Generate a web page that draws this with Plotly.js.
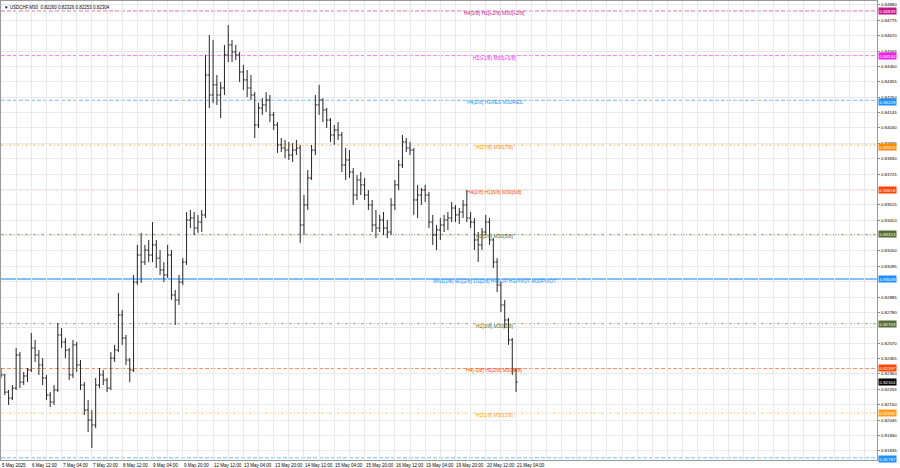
<!DOCTYPE html>
<html>
<head>
<meta charset="utf-8">
<script src="https://cdn.plot.ly/plotly-3.0.1.min.js"></script>
<style>html,body{margin:0;padding:0;background:#fff;}#chart{width:900px;height:468px;}</style>
</head>
<body>
<div id="chart"></div>
<script>
// 2-hour bars, starting 5 May 20:00
const bar_open = [0.82373,0.82353,0.82236,0.82195,0.82263,0.82489,0.82304,0.82346,0.82387,0.82537,0.82489,0.82421,0.82332,0.82216,0.82168,0.82250,0.82626,0.82578,0.82523,0.82353,0.82558,0.82421,0.82284,0.82113,0.82045,0.82011,0.82284,0.82353,0.82318,0.82263,0.82468,0.82523,0.82763,0.82605,0.82455,0.82387,0.82987,0.83172,0.83124,0.83206,0.83172,0.83241,0.83151,0.83070,0.83036,0.83172,0.82899,0.82865,0.82987,0.83124,0.83411,0.83425,0.83356,0.83397,0.83446,0.84402,0.84265,0.84334,0.84265,0.84313,0.84539,0.84607,0.84559,0.84539,0.84422,0.84368,0.84313,0.84265,0.84060,0.84176,0.84197,0.84231,0.84129,0.84060,0.83924,0.83903,0.83889,0.83855,0.83889,0.83903,0.83377,0.83514,0.83698,0.83889,0.84197,0.84231,0.84163,0.84094,0.83992,0.84026,0.83992,0.83787,0.83821,0.83739,0.83582,0.83685,0.83651,0.83582,0.83514,0.83377,0.83356,0.83411,0.83356,0.83329,0.83514,0.83651,0.83787,0.83944,0.83903,0.83889,0.83548,0.83582,0.83616,0.83582,0.83397,0.83309,0.83343,0.83377,0.83411,0.83425,0.83493,0.83446,0.83466,0.83514,0.83425,0.83397,0.83275,0.83241,0.83329,0.83397,0.83275,0.83124,0.82967,0.82831,0.82728,0.82592,0.82387];
const bar_high = [0.82400,0.82360,0.82250,0.82284,0.82537,0.82509,0.82373,0.82400,0.82640,0.82592,0.82523,0.82468,0.82353,0.82236,0.82284,0.82708,0.82673,0.82605,0.82537,0.82592,0.82578,0.82455,0.82304,0.82182,0.82113,0.82332,0.82400,0.82387,0.82332,0.82509,0.82558,0.82913,0.82797,0.82626,0.82468,0.83036,0.83241,0.83323,0.83241,0.83275,0.83397,0.83275,0.83206,0.83124,0.83241,0.83206,0.82933,0.83036,0.83151,0.83466,0.83480,0.83466,0.83446,0.83480,0.84539,0.84675,0.84641,0.84402,0.84354,0.84607,0.84743,0.84641,0.84607,0.84559,0.84470,0.84436,0.84402,0.84285,0.84211,0.84244,0.84285,0.84265,0.84149,0.84080,0.83971,0.83958,0.83944,0.83937,0.83958,0.83924,0.83582,0.83753,0.83924,0.84265,0.84334,0.84244,0.84176,0.84108,0.84060,0.84080,0.84012,0.83903,0.83889,0.83766,0.83719,0.83739,0.83698,0.83616,0.83548,0.83480,0.83446,0.83466,0.83411,0.83561,0.83685,0.83821,0.83992,0.83971,0.83944,0.83903,0.83651,0.83630,0.83651,0.83602,0.83446,0.83377,0.83425,0.83446,0.83466,0.83534,0.83514,0.83493,0.83548,0.83616,0.83466,0.83425,0.83329,0.83356,0.83446,0.83425,0.83288,0.83151,0.82987,0.82865,0.82742,0.82605,0.82400];
const bar_low = [0.82332,0.82216,0.82148,0.82182,0.82250,0.82263,0.82284,0.82304,0.82373,0.82441,0.82353,0.82284,0.82182,0.82134,0.82148,0.82236,0.82537,0.82468,0.82318,0.82332,0.82373,0.82250,0.82079,0.81963,0.81854,0.81990,0.82263,0.82284,0.82236,0.82250,0.82441,0.82509,0.82558,0.82421,0.82304,0.82373,0.82967,0.82981,0.83104,0.83124,0.83124,0.83083,0.83036,0.82987,0.83015,0.82865,0.82694,0.82831,0.82967,0.83104,0.83356,0.83309,0.83323,0.83329,0.83425,0.84176,0.84211,0.84197,0.84108,0.84265,0.84490,0.84490,0.84504,0.84354,0.84299,0.84251,0.84231,0.83971,0.84039,0.84129,0.84149,0.84080,0.84026,0.83869,0.83875,0.83834,0.83821,0.83807,0.83855,0.83255,0.83309,0.83480,0.83685,0.83855,0.84129,0.84080,0.84039,0.83944,0.83924,0.83958,0.83739,0.83685,0.83698,0.83514,0.83548,0.83582,0.83548,0.83480,0.83329,0.83288,0.83329,0.83309,0.83288,0.83309,0.83480,0.83616,0.83766,0.83875,0.83855,0.83446,0.83425,0.83514,0.83534,0.83356,0.83241,0.83206,0.83275,0.83329,0.83343,0.83397,0.83397,0.83384,0.83425,0.83397,0.83356,0.83206,0.83124,0.83206,0.83309,0.83241,0.83083,0.82919,0.82783,0.82673,0.82558,0.82353,0.82236];
const bar_close = [0.82353,0.82236,0.82195,0.82263,0.82489,0.82304,0.82346,0.82387,0.82537,0.82489,0.82421,0.82332,0.82216,0.82168,0.82250,0.82626,0.82578,0.82523,0.82353,0.82558,0.82421,0.82284,0.82113,0.82045,0.82011,0.82284,0.82353,0.82318,0.82263,0.82468,0.82523,0.82763,0.82605,0.82455,0.82387,0.82987,0.83172,0.83124,0.83206,0.83172,0.83241,0.83151,0.83070,0.83036,0.83172,0.82899,0.82865,0.82987,0.83124,0.83411,0.83425,0.83356,0.83397,0.83446,0.84402,0.84265,0.84334,0.84265,0.84313,0.84539,0.84607,0.84559,0.84539,0.84422,0.84368,0.84313,0.84265,0.84060,0.84176,0.84197,0.84231,0.84129,0.84060,0.83924,0.83903,0.83889,0.83855,0.83889,0.83903,0.83377,0.83514,0.83698,0.83889,0.84197,0.84231,0.84163,0.84094,0.83992,0.84026,0.83992,0.83787,0.83821,0.83739,0.83582,0.83685,0.83651,0.83582,0.83514,0.83377,0.83356,0.83411,0.83356,0.83329,0.83514,0.83651,0.83787,0.83944,0.83903,0.83889,0.83548,0.83582,0.83616,0.83582,0.83397,0.83309,0.83343,0.83377,0.83411,0.83425,0.83493,0.83446,0.83466,0.83514,0.83425,0.83397,0.83275,0.83241,0.83329,0.83397,0.83275,0.83124,0.82967,0.82831,0.82728,0.82592,0.82387,0.82304];

const symbol_name = "USDCHF,M30";
const last_bar = [0.82260, 0.82326, 0.82253, 0.82304];
const current_price = 0.82304;

const level_values = [0.84839, 0.84534, 0.84229, 0.83923, 0.83618, 0.83313, 0.83008, 0.82703, 0.82397, 0.82092, 0.81787];
const level_names = ["H4[3/8] H1[+2/8] M30[+2/8]", "H1[+1/8] M30[+1/8]", "H4[2/8] H1RES M30RES", "H1[7/8] M30[7/8]", "H4[1/8] H1[6/8] M30[6/8]", "H1[5/8] M30[5/8]", "MN1[2/8] W1[2/8] D1[2/8] H4SUP H1PIVOT M30PIVOT", "H1[3/8] M30[3/8]", "H4[-1/8] H1[2/8] M30[2/8]", "H1[1/8] M30[1/8]", ""];

// price-scale labels that are visible (others are covered by level boxes)
const y_tick_values = [0.84880,0.84775,0.84670,0.84565,0.84460,0.84355,0.84250,0.84145,0.84040,0.83935,0.83830,0.83725,0.83515,0.83410,0.83200,0.83095,0.82885,0.82780,0.82570,0.82465,0.82360,0.82255,0.82150,0.82045,0.81940,0.81835];

const time_label_bars = [0,8,16,24,32,40,48,56,64,72,80,88,96,104,112,120,128,136];
const time_labels = ["5 May 2025","6 May 12:00","7 May 04:00","7 May 20:00","8 May 12:00","9 May 04:00","9 May 20:00","12 May 12:00","13 May 04:00","13 May 20:00","14 May 12:00","15 May 04:00","15 May 20:00","16 May 12:00","19 May 04:00","19 May 20:00","20 May 12:00","21 May 04:00"];

// styles
const level_colors = ["#c71585","#f020f0","#1e90ff","#ff8c00","#ff4500","#556b2f","#1e90ff","#556b2f","#ff4500","#ff9c1a","#1e90ff"];
const level_dash = ["4px,2px","4px,2px","4px,2px","3px,2px,1px,2px","4px,2px","3px,2px,1px,2px","solid","3px,2px,1px,2px","4px,2px","3px,2px,1px,2px","4px,2px"];
const box_shift = [0,0,-2,-2,0,0,0,0,0,0,-1];
const FONT = "Liberation Sans, Arial, sans-serif";

const xs = bar_open.map((_, i) => i);

const trace = {
  type: 'ohlc', x: xs, open: bar_open, high: bar_high, low: bar_low, close: bar_close,
  increasing: {line: {color: '#262626', width: 1}},
  decreasing: {line: {color: '#262626', width: 1}},
  tickwidth: 0.42, hoverinfo: 'skip', showlegend: false
};

const shapes = level_values.map((v, k) => ({
  type: 'line', xref: 'paper', x0: 0, x1: 1, yref: 'y', y0: v, y1: v, layer: 'below',
  opacity: level_dash[k] === 'solid' ? 0.55 : 0.6,
  line: {color: level_colors[k], width: level_dash[k] === 'solid' ? 2 : 1, dash: level_dash[k]}
}));

const annotations = [];
level_values.forEach((v, k) => {
  if (level_names[k]) annotations.push({
    xref: 'paper', x: 0.5634, yref: 'y', y: v, yshift: -2, text: level_names[k], showarrow: false,
    font: {family: FONT, size: 5, color: level_colors[k]}
  });
  annotations.push({
    xref: 'paper', x: 1, xanchor: 'left', xshift: 1, yref: 'y', y: v, yshift: box_shift[k], text: v.toFixed(5), showarrow: false,
    bgcolor: level_colors[k], borderpad: 0.5, font: {family: FONT, size: 4.4, color: '#ffffff'}
  });
});
annotations.push({
  xref: 'paper', x: 1, xanchor: 'left', xshift: 1, yref: 'y', y: current_price, text: current_price.toFixed(5), showarrow: false,
  bgcolor: '#000000', borderpad: 0.5, font: {family: FONT, size: 4.4, color: '#ffffff'}
});
annotations.push({
  xref: 'paper', x: 0, xanchor: 'left', xshift: 1, yref: 'paper', y: 1, yanchor: 'top', yshift: -2,
  text: '▼ ' + symbol_name + '  ' + last_bar.map(v => v.toFixed(5)).join(' '), showarrow: false,
  font: {family: FONT, size: 4.5, color: '#000'}
});
time_label_bars.forEach((b, k) => {
  annotations.push({
    xref: 'x', x: b, xanchor: 'left', xshift: -1, yref: 'paper', y: 0, yanchor: 'top', yshift: -1,
    text: time_labels[k], showarrow: false, font: {family: FONT, size: 4.5, color: '#000'}
  });
});

const layout = {
  width: 900, height: 468,
  margin: {l: 1, r: 23, t: 1, b: 8, pad: 0},
  paper_bgcolor: '#ffffff', plot_bgcolor: '#ffffff',
  font: {family: FONT, size: 4.5, color: '#000'},
  showlegend: false,
  xaxis: {
    type: 'linear', range: [0, 231.3], rangeslider: {visible: false},
    tick0: 0, dtick: 4, showticklabels: false, ticks: '',
    showgrid: true, gridcolor: '#e9e9e9', gridwidth: 1,
    zeroline: false, showline: true, linecolor: '#9a9a9a', mirror: true, automargin: false, fixedrange: true
  },
  yaxis: {
    side: 'right', range: [0.81772, 0.84907],
    tickmode: 'array', tickvals: y_tick_values, ticktext: y_tick_values.map(v => v.toFixed(5)),
    ticks: 'outside', ticklen: 2, tickcolor: '#888', tickfont: {family: FONT, size: 4.4, color: '#000'},
    showgrid: false,
    minor: {tickmode: 'linear', tick0: 0.81835, dtick: 0.00105, showgrid: true, gridcolor: '#e9e9e9', gridwidth: 1, ticks: ''},
    zeroline: false, showline: true, linecolor: '#9a9a9a', mirror: true, automargin: false, fixedrange: true
  },
  shapes: shapes,
  annotations: annotations
};

Plotly.newPlot('chart', [trace], layout, {displayModeBar: false, staticPlot: true});
</script>
</body>
</html>
